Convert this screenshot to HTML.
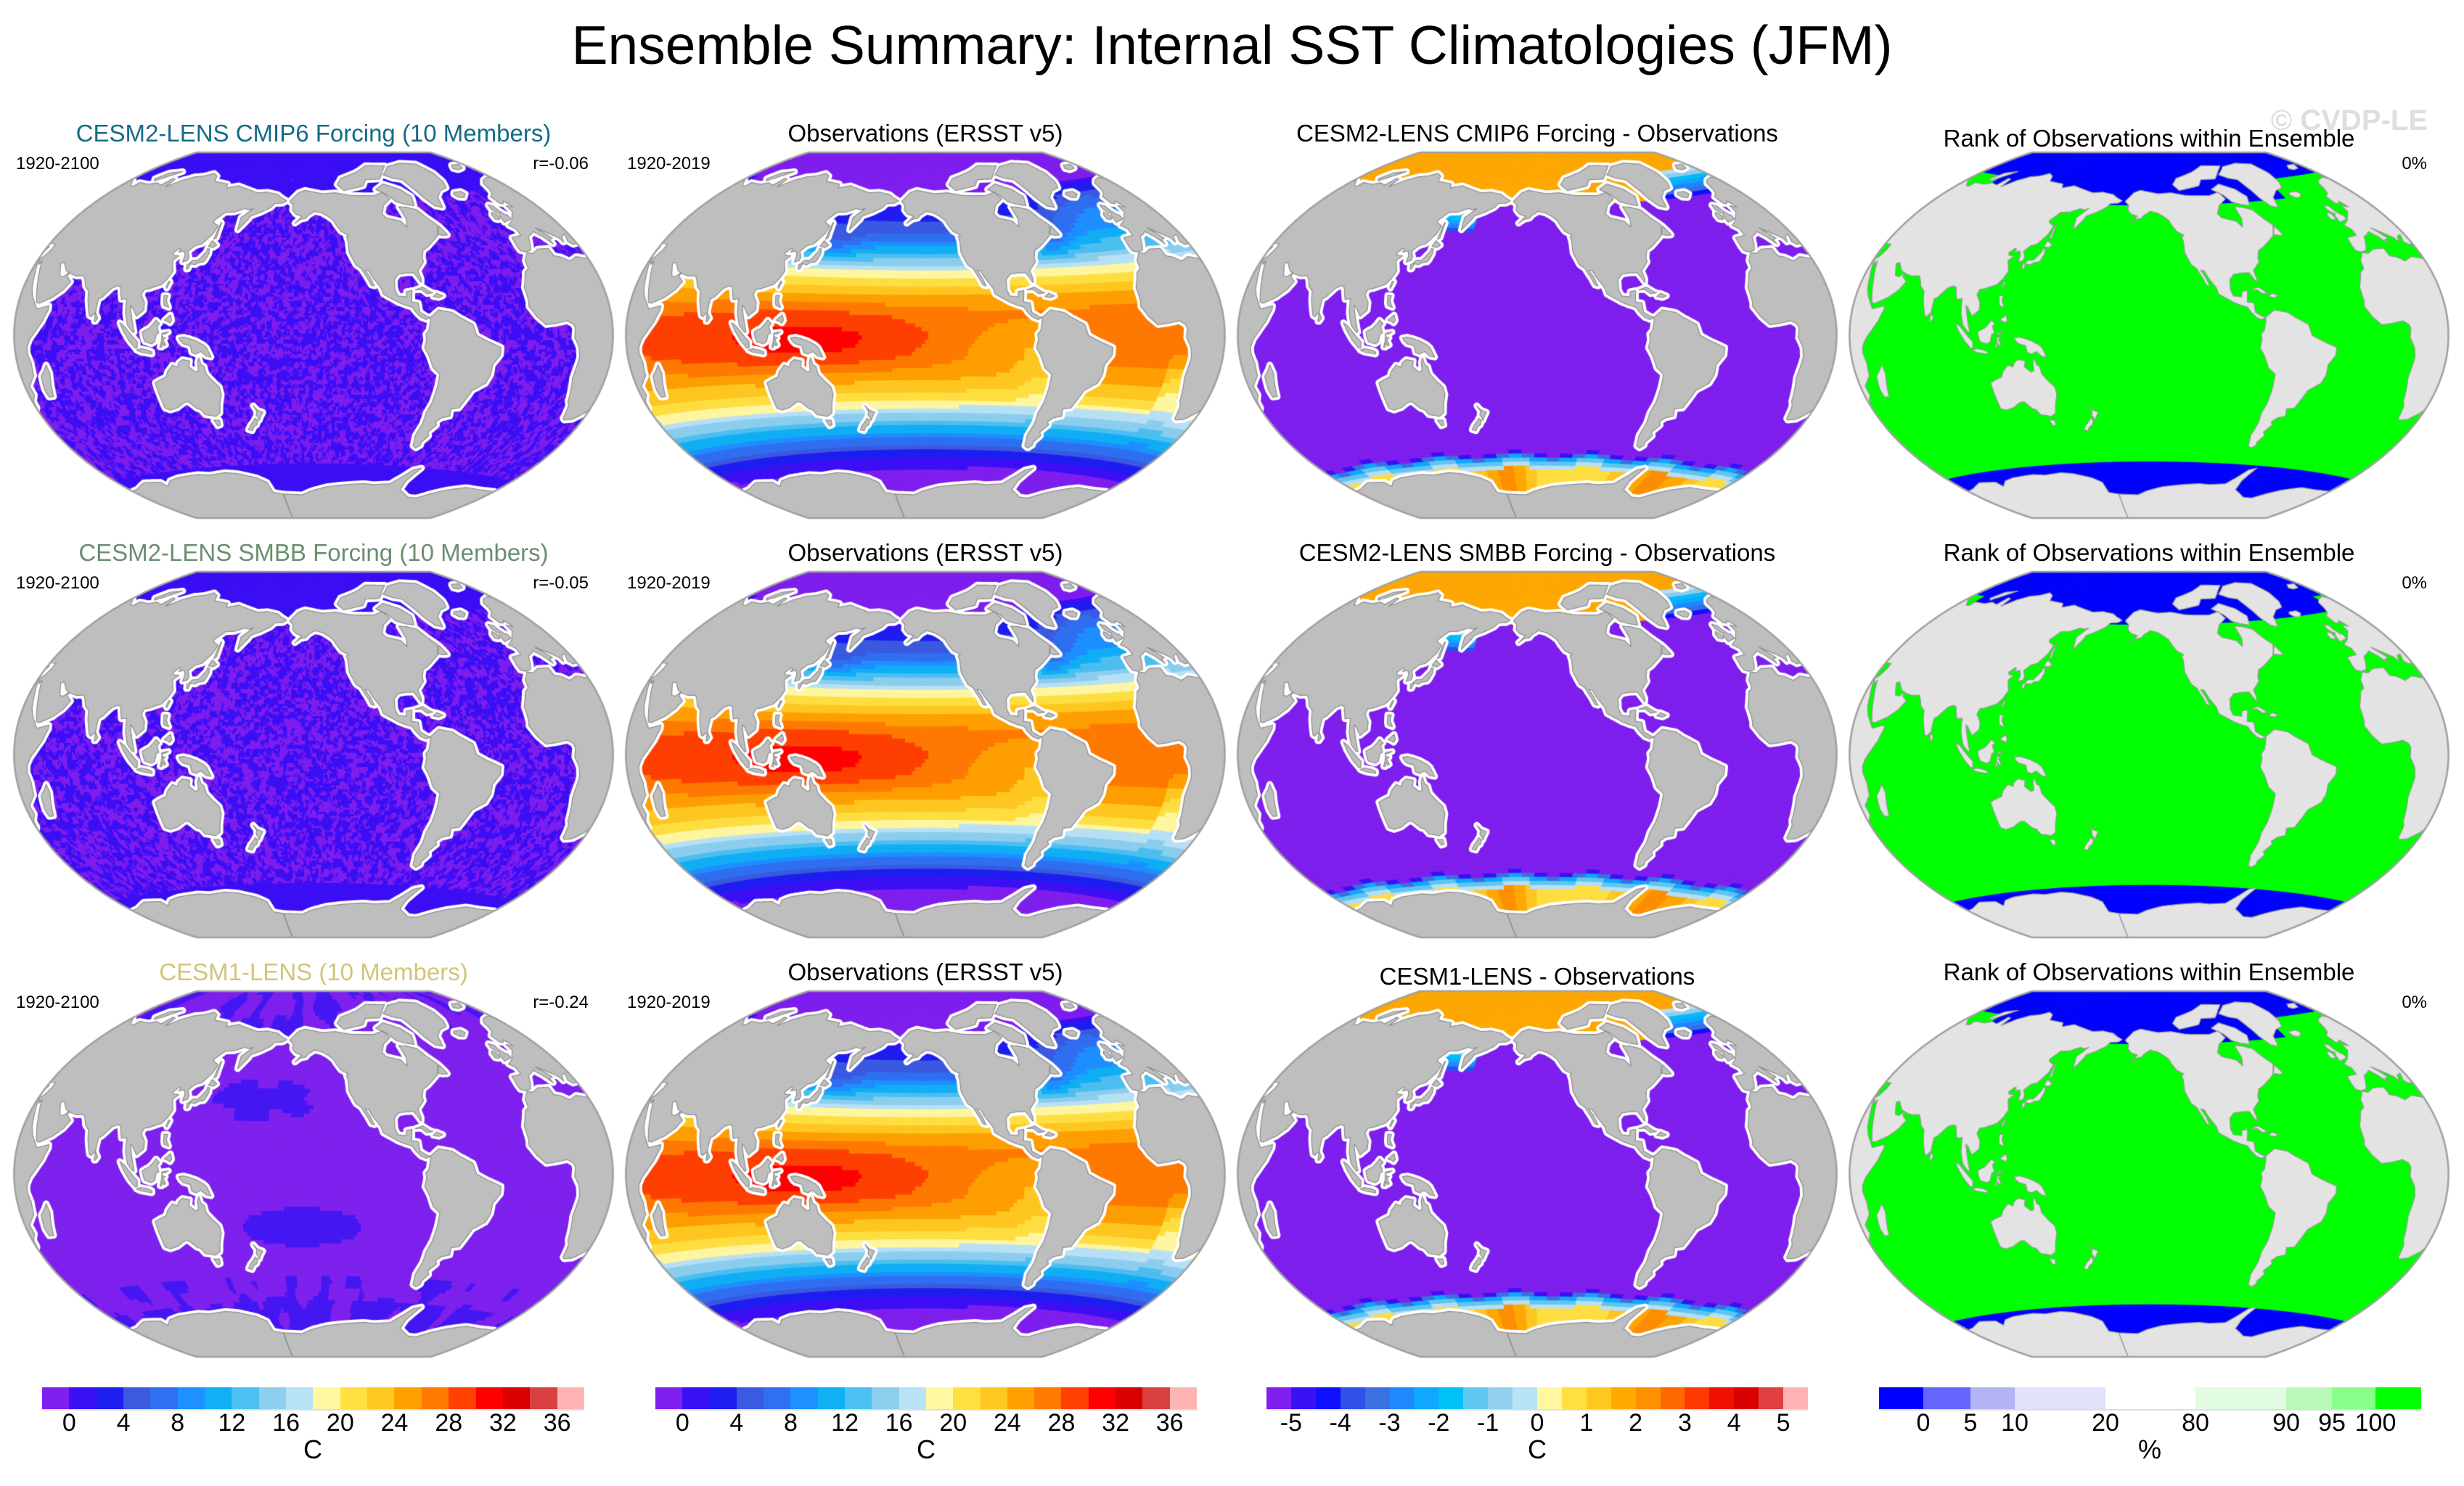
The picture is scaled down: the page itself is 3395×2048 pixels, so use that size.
<!DOCTYPE html>
<html><head><meta charset="utf-8">
<style>
html,body{margin:0;padding:0;background:#fff;}
#wrap{position:relative;width:3395px;height:2048px;overflow:hidden;font-family:"Liberation Sans",sans-serif;}
canvas{position:absolute;left:0;top:0;}
.t{position:absolute;white-space:nowrap;line-height:1;color:#000;}
.bar{position:absolute;top:1912px;height:30px;display:flex;border-bottom:2px solid #ddd;}
.bar div{height:100%;}
</style></head>
<body>
<div id="wrap">
<canvas id="cv" width="3395" height="2048"></canvas>
<div class="t" style="left:0;width:3395px;text-align:center;top:25px;font-size:75px;">Ensemble Summary: Internal SST Climatologies (JFM)</div>
<div class="t" style="right:50px;top:146px;font-size:40px;font-weight:bold;color:#dedede;">© CVDP-LE</div>
</div>
<script>
// ---- data arrays ----
const sstLevels=[0,2,4,6,8,10,12,14,16,18,20,22,24,26,28,30,32,34,36];
const sstColors=['#7f20ee','#3c10f5','#1e1ef0','#3a5ae0','#3070f0','#1e90ff','#10b0f5','#4cc0f0','#8ccfee','#b8e2f5','#fff8a0','#ffe040','#ffc820','#ffa000','#ff7a00','#ff4000','#ff0000','#d80000','#d94040','#ffb4b4'];
const sstTickLabels=['0','4','8','12','16','20','24','28','32','36'];
const diffColors=['#7f20ee','#3c10f5','#1010ff','#3050e8','#3a70e0','#2088ff','#10a8ff','#00c0f8','#60c8f0','#90d0ee','#b8e2f5','#fff8a0','#ffe040','#ffc820','#ffaa00','#ff9000','#ff6a00','#ff3a00','#f01000','#d80000','#e04040','#ffb4b4'];
const diffTickLabels=['-5','-4','-3','-2','-1','0','1','2','3','4','5'];
const rankColors=['#0000ff','#6666ff','#b3b3f5','#e2e2fa','#ffffff','#e2fce2','#b8f8b8','#88ff88','#00ff00'];
const rankBounds=[2589,2650,2715,2776,2901,3025,3150,3213,3273,3336];
const rankTickLabels=['0','5','10','20','80','90','95','100'];
const sstLats=[-90,-80,-70,-60,-50,-40,-30,-20,-10,0,10,20,30,40,50,60,70,80,90];
const sstZonal=[-1.8,-1.8,-1.5,1.5,8,15,21,24.5,27,27.5,27,24,19,12,6,3,-0.5,-1.5,-1.8];

const W=document.getElementById('wrap');
function txt(name,s,style){const d=document.createElement('div');d.className='t';


d.textContent=s;d.style.cssText=style;W.appendChild(d);return d;}

const colCX=[432,1275,2118,2961], rowCY=[462,1040,1618];
const S=160.5, L0=212;
const titles=[
 ['CESM2-LENS CMIP6 Forcing (10 Members)','Observations (ERSST v5)','CESM2-LENS CMIP6 Forcing - Observations','Rank of Observations within Ensemble'],
 ['CESM2-LENS SMBB Forcing (10 Members)','Observations (ERSST v5)','CESM2-LENS SMBB Forcing - Observations','Rank of Observations within Ensemble'],
 ['CESM1-LENS (10 Members)','Observations (ERSST v5)','CESM1-LENS - Observations','Rank of Observations within Ensemble']];
const tColors=['#156b86','#6a8e70','#d4c478'];
const rVals=['r=-0.06','r=-0.05','r=-0.24'];
for(let r=0;r<3;r++){for(let c=0;c<4;c++){
 let base=195+578*r; if(c==3&&r==0)base=202; if(c==2&&r==2)base=201+578*2;
 txt('panel-title-r'+(r+1)+'-c'+(c+1),titles[r][c],`left:${colCX[c]-600}px;width:1200px;text-align:center;top:${base-28}px;font-size:33px;color:${c==0?tColors[r]:'#000'}`);}
 const sb=234+578*r;
 txt('period-label-model-r'+(r+1),'1920-2100',`left:22px;top:${sb-20}px;font-size:24px`);
 txt('pattern-correlation-r'+(r+1),rVals[r],`right:${3395-811}px;top:${sb-20}px;font-size:24px`);
 txt('period-label-obs-r'+(r+1),'1920-2019',`left:864px;top:${sb-20}px;font-size:24px`);
 txt('rank-percent-r'+(r+1),'0%',`right:${3395-3344}px;top:${sb-20}px;font-size:24px`);
}
function bar(name,x0,x1,colors,bounds){const b=document.createElement('div');b.className='bar';
 
 
 b.style.left=x0+'px';b.style.width=(x1-x0)+'px';
 colors.forEach((c,i)=>{const d=document.createElement('div');
  
  
  d.style.background=c;d.style.width=(bounds?bounds[i+1]-bounds[i]:(x1-x0)/colors.length)+'px';b.appendChild(d);});
 W.appendChild(b);}
bar('sst-colorbar-1',58,805,sstColors);bar('sst-colorbar-2',903,1649,sstColors);
bar('diff-colorbar',1745,2491,diffColors);bar('rank-colorbar',2589,3336,rankColors,rankBounds);
function ticks(x0,x1,n,labels,step,first,name){const w=(x1-x0)/n;labels.forEach((l,i)=>{const x=x0+w*(first+i*step);
 txt(name,l,`left:${x-60}px;width:120px;text-align:center;top:1944px;font-size:34px`);});}
ticks(58,805,20,sstTickLabels,2,1,'sst-tick-label');ticks(903,1649,20,sstTickLabels,2,1,'sst-tick-label');
ticks(1745,2491,22,diffTickLabels,2,1,'diff-tick-label');
rankTickLabels.forEach((l,i)=>{txt('rank-tick-label',l,`left:${rankBounds[i+1]-60}px;width:120px;text-align:center;top:1944px;font-size:34px`);});
[[431,'C'],[1276,'C'],[2118,'C'],[2962,'%']].forEach(([x,u])=>txt('colorbar-units',u,`left:${x-50}px;width:100px;text-align:center;top:1980px;font-size:36px`));

// ---- projection (Winkel tripel) ----
const D=Math.PI/180, C1=2/Math.PI;
function wt(lr,lat){const l=lr*D,p=lat*D;const a=Math.acos(Math.cos(p)*Math.cos(l/2));const si=a<1e-9?1:Math.sin(a)/a;
 return [0.5*(l*C1+2*Math.cos(p)*Math.sin(l/2)/si),0.5*(p+Math.sin(p)/si)];}
function P(cx,cy,lr,lat){const q=wt(lr,lat);return [cx+S*q[0],cy-S*q[1]];}

// ---- land polygons (lon,lat) ----
const LAND=[
[[-168,66],[-162,70],[-156,71.3],[-140,69.6],[-128,70],[-115,68.5],[-95,68],[-85,69.5],[-82,66],[-90,63],[-94,59],[-92,57],[-82,55],[-79,52],[-77,56],[-78,62],[-72,61.5],[-65,60],[-61,56],[-56,52],[-60,47],[-65,44.5],[-70,42],[-74,40.5],[-76,37],[-76,35],[-81,31],[-80,27],[-80.5,25.2],[-82.5,28],[-84,30],[-89,30],[-94,29.5],[-97,27],[-97.5,22],[-96,19],[-91,18.5],[-90.5,21],[-87,21.5],[-88,16],[-84,15.5],[-83.5,11],[-79.5,9],[-77.5,8.5],[-80,7.5],[-83,8.5],[-86,11],[-88,13.5],[-92,14.5],[-96,15.8],[-105,20],[-106,23],[-110,27.5],[-112.7,31.5],[-114.8,31.8],[-112,28],[-110,24],[-112,24.5],[-114,28],[-115.8,30.4],[-117.1,32.5],[-120.5,34.5],[-124,40.5],[-124,46],[-124.7,48.4],[-123,49],[-128,51],[-131,54],[-133,56.5],[-137,58.5],[-141,60],[-147,61],[-152,59],[-154,57.5],[-158,57],[-162,55],[-157,58.5],[-162,59.5],[-165,61.5],[-165,64],[-168,65.5]],
[[-77.5,8.5],[-72,12],[-64,10.7],[-60,8.5],[-52,5],[-50,0],[-44,-2.5],[-35,-5.5],[-35,-9],[-39,-13.5],[-39,-18],[-41,-22],[-48,-25.5],[-53,-34],[-58,-34.5],[-57,-38],[-62,-39],[-65,-41],[-63.5,-42.5],[-67.5,-46],[-65.8,-47.8],[-69,-51],[-68.5,-52.5],[-71,-54],[-74,-53],[-75.5,-48],[-73.5,-42],[-73.5,-37],[-71.5,-32],[-70.5,-25],[-70.3,-18.5],[-75,-15.5],[-78,-10],[-81,-6],[-80,-2],[-80.5,0.5],[-78.5,2.5],[-77.5,7]],
[[-17,21],[-16.5,14.5],[-17,12.5],[-13,8],[-8,4.5],[-2,5],[5,6],[8.5,4.5],[9.5,3],[9,-1],[12,-5],[13,-9],[12,-15],[11.8,-17.5],[15,-27],[17,-29],[18.5,-34.2],[20,-34.8],[25,-34],[30,-31],[32.5,-28.5],[32.8,-26],[35.5,-23.5],[35,-20],[40,-16],[40.5,-11],[39.2,-7],[39.5,-4.5],[41.5,-1.5],[45,1.8],[48.5,5.5],[51.2,10.5],[51,12],[44,10.5],[43.2,11.5],[39.5,15.5],[37.5,18.5],[35.5,23.5],[33.5,27.5],[32.5,30],[29,30.8],[25,31.7],[20,30.5],[19,30.3],[15.2,32.3],[11,33.2],[10.5,36.5],[3,36.8],[-2,35.2],[-5.5,35.9],[-9.5,32.5],[-10,29],[-13,27.5]],
[[-9,43],[-9.5,39],[-9,37],[-6,36.2],[-2,36.7],[0,38.7],[3,42.5],[6,43.2],[9,44.3],[12.5,41.8],[16,38],[15.7,40],[18.5,40.3],[13,45.6],[19.5,42],[23,40],[23.8,38],[26,40.5],[29,41],[27,38],[29,36.5],[36,36.8],[36,34.5],[34.5,31.5],[32.5,30],[34.5,28],[35,29.5],[39,22],[43,13],[45,12.8],[52,15.5],[57,18.8],[59.8,22.5],[56.3,24.5],[56.5,26.2],[54,24.2],[51.5,24.5],[50.5,26],[48,29.5],[50,30],[54,26.8],[57,25.8],[62,25],[66.5,25.4],[68.5,23.4],[70,21],[72.9,19],[74,15],[76.5,8.5],[77.5,8],[80,10],[80.3,15.8],[82.3,16.7],[87,21],[90,22],[92,21.5],[94.3,16],[97.5,16.5],[98.2,10],[100,4.5],[103.3,1.3],[104.2,1.5],[103,5.5],[100.5,13.5],[102,12.5],[105,8.7],[109,11.5],[108.8,15],[106,18.5],[107,21],[110,21.4],[113.5,22.5],[117,23.5],[120,26.5],[122,30],[121,32],[119.5,35],[122.5,37.3],[119,37.3],[118,38.5],[121,40.8],[122.2,40.5],[121.5,39],[125,39.7],[126.5,37.5],[126.3,34.5],[129.3,35.3],[129.5,37],[127.5,39.7],[131,42.5],[135,43.5],[140,48.5],[141.3,52.5],[137,54],[136.5,55],[142,59.2],[149,59.6],[156,61.5],[160,61],[163,61.8],[156,57],[156.7,51],[162,56.3],[163,58],[170,60],[177,62.5],[179.5,64.5],[186,64.8],[189,66],[184,67.5],[180,69],[170,70],[161,69.5],[152,70.8],[140,72.5],[130,71],[128,73],[113,73.8],[110,76.5],[104,77.7],[97,76],[88,75],[80,72.5],[73,68.5],[72.5,72.7],[69,73],[67,69],[60,69.8],[55,68.5],[44,68.5],[44,66.5],[41,66.2],[33,69.3],[28,71],[20,70],[15,68.5],[12.5,65.5],[10,63.5],[5,62],[5.5,58.5],[8,58],[10.5,59.2],[12,57.2],[12.5,55.8],[8.5,57],[8,54],[4,52],[1.5,50.5],[-1.5,49.5],[-4.5,48.5],[-1.5,46.5],[-1.5,43.5]],
[[-73,78],[-60,82],[-40,83.5],[-22,82.5],[-18,77],[-20,72],[-24,69],[-32,68],[-40,65],[-43,60],[-48,61],[-52,65],[-54,69],[-58,75],[-66,76]],
[[-80,73.5],[-68,70.5],[-62,66.5],[-65,62],[-72,63],[-78,64.5],[-82,68],[-90,71]],
[[-120,71],[-100,73],[-95,76],[-80,76],[-70,80],[-62,82.5],[-85,83],[-100,80],[-120,77],[-125,74]],
[[113.5,-22],[114,-26.5],[115,-34],[118,-35],[123.5,-34],[129,-31.6],[131.5,-31.5],[135.5,-34.8],[138,-35.5],[140,-38],[144,-38.5],[146.5,-39],[150,-37.5],[151.5,-33],[153.5,-28.5],[153,-25],[149.5,-22],[146,-18.5],[145.3,-15],[143.5,-14],[142.5,-10.8],[141.5,-13],[141.5,-17],[139.5,-17.5],[136,-15],[136.8,-12.2],[132.5,-11.5],[130,-13],[129,-15],[126,-14],[122.5,-17],[121,-19.5],[117,-20.7]],
[[144.6,-40.7],[148.3,-40.9],[148,-43.2],[146,-43.6]],
[[172.7,-34.4],[175,-36.5],[178.5,-37.7],[177,-39.3],[175.3,-41.6],[174.6,-39.8],[173.8,-39.2],[174.5,-37]],
[[172.7,-40.5],[174.3,-41.7],[173,-43.8],[171,-44.5],[169,-46.6],[166.5,-46],[168.4,-44],[171.5,-41.7]],
[[130.9,34],[132.5,35.5],[136,35.7],[137.5,37.2],[140,40],[140,41.4],[141.5,41.3],[142,39],[140.8,36],[140,35],[137,34.6],[135,33.5],[132,33.8]],
[[140,42.5],[141.5,45.3],[145.5,43.3],[143.5,42]],
[[129.7,33.5],[131.8,33.8],[131.2,31.3],[130.2,31.2]],
[[142,46],[143.5,46.8],[143,54],[142.5,54.3]],
[[95.3,5.6],[98,4.2],[103.7,-1],[106,-3],[105.8,-5.8],[104.5,-5.9],[101,-2.5],[97.5,2]],
[[105.2,-6.8],[108,-6.2],[112,-6.8],[114.5,-7.7],[114.4,-8.7],[108,-7.8]],
[[109,1.5],[109.6,-1],[110.5,-3],[114.5,-4],[116.5,-3],[117.5,0.5],[119,1],[117.8,4.2],[119.2,5.4],[117,7],[115.5,5.3],[113,3.2],[111.3,2.6],[109.8,1.9]],
[[119.5,-5.5],[120.5,-2.8],[121,1],[124.8,1.5],[122.5,0.5],[120.5,0.5],[121.5,-1],[123,-1.2],[121.5,-2],[123,-4.5],[122,-5],[121,-3.5],[120.5,-5.6]],
[[131,-1.3],[134,-0.9],[137,-1.5],[141,-2.6],[145.5,-4.5],[147.5,-6],[150,-10.5],[147,-10],[144,-7.8],[141,-9],[138.5,-8.2],[137.8,-5],[133.5,-4],[132,-2.8]],
[[120,18.5],[122.3,18.5],[122,16],[124,13],[121,13.8],[120.5,15]],
[[122,7],[125.5,9.5],[126.5,7],[125.5,5.7],[124,6.5]],
[[120.2,22.5],[121,25.2],[122,25],[120.8,21.9]],
[[79.8,6],[80,9.8],[81.8,7.5],[80.5,6]],
[[44,-25],[47,-25],[50.3,-15.5],[49.3,-12],[47.5,-14],[44.3,-16.5],[43.3,-22]],
[[-5.5,50],[1.5,51],[1.7,52.8],[0,53.5],[-1.5,55.5],[-2,57.7],[-5,58.6],[-6.2,56.5],[-4.8,54.8],[-3,54],[-4.5,53.3],[-5.2,51.7]],
[[-6,52],[-6,54],[-8,55.2],[-10,54],[-10.3,52],[-8,51.5]],
[[-24,65.5],[-22,66.4],[-15,66.5],[-13.5,65],[-18,63.4],[-22,63.8]],
[[11,78],[17,80],[27,80],[22,77.5],[14,77]],
[[52,71.5],[57,75.5],[68,77],[60,73],[55,70.5]],
[[-85,21.8],[-80,23],[-75.5,20.5],[-74.2,20.2],[-78,19.8],[-81,21.8]],
[[-74.5,18.4],[-72,19.9],[-68.4,18.6],[-71,17.8]],
[[-59.3,47.6],[-55.5,51.6],[-53,48],[-52.7,47],[-56,47]],
[[-180,-78],[-160,-78.5],[-150,-76.5],[-135,-74.5],[-120,-73.5],[-100,-72.5],[-90,-72.8],[-75,-72],[-68,-68],[-63,-64.5],[-57,-63.3],[-60,-67],[-62,-70],[-61,-74.5],[-45,-78],[-35,-78],[-25,-75],[-15,-72.5],[0,-70],[15,-70],[30,-69.5],[40,-68.8],[55,-66.5],[70,-67.5],[72,-70],[80,-67.5],[90,-66.5],[110,-66],[120,-66.8],[135,-66.2],[145,-67],[160,-69.5],[168,-72],[170,-77],[180,-78],[180,-90],[-180,-90]]
];
function clipX(poly,v,keepGreater){const out=[];const n=poly.length;
 for(let i=0;i<n;i++){const a=poly[i],b=poly[(i+1)%n];const ia=keepGreater?a[0]>=v:a[0]<=v,ib=keepGreater?b[0]>=v:b[0]<=v;
  if(ia)out.push(a);
  if(ia!==ib){const t=(v-a[0])/(b[0]-a[0]);out.push([v,a[1]+t*(b[1]-a[1])]);}}
 return out;}
function densify(poly){const out=[];const n=poly.length;
 for(let i=0;i<n;i++){const a=poly[i],b=poly[(i+1)%n];const d=Math.max(Math.abs(b[0]-a[0]),Math.abs(b[1]-a[1]));const k=Math.max(1,Math.ceil(d/1.5));
  for(let j=0;j<k;j++)out.push([a[0]+(b[0]-a[0])*j/k,a[1]+(b[1]-a[1])*j/k]);}
 return out;}
const LANDREL=[];
LAND.forEach(poly=>{for(let k=-2;k<=1;k++){const lo=L0-180+360*k,hi=lo+360;
 let p=clipX(poly,lo,true);if(p.length<3)continue;p=clipX(p,hi,false);if(p.length<3)continue;
 LANDREL.push(densify(p).map(q=>[q[0]-lo-180,q[1]]));}});

// ---- fields ----
function zonal(lat){for(let i=0;i<sstLats.length-1;i++){if(lat<=sstLats[i+1]){const t=(lat-sstLats[i])/(sstLats[i+1]-sstLats[i]);return sstZonal[i]+t*(sstZonal[i+1]-sstZonal[i]);}}return sstZonal[sstZonal.length-1];}
function g(x,m,s){return Math.exp(-((x-m)*(x-m))/(2*s*s));}
function norm(lon){return ((lon%360)+360)%360;}
function obsT(lon,lat){lon=norm(lon);let T=zonal(lat);
 T+=2.2*g(lat,-3,11)*(g(lon,100,45)+g(lon,160,35));
 T-=3*g(lat,-5,9)*g(lon,270,25);
 T-=3.5*g(lat,-22,10)*g(lon,8,8);
 T-=2*g(lat,-22,10)*g(lon,283,8);
 const la=lon>200?lon:lon+360;
 T+=4.5*g(lat,58,12)*g(la,350,30);
 T-=2.5*g(lat,45,6)*g(lon,300,10);
 T-=2.5*g(lat,45,6)*g(lon,152,12);
 if(lat>72)T=-1.8;return T;}
function diffV(lon,lat,r){lon=norm(lon);const la=lon>200?lon:lon+360;
 if(lat>64){ if(la>315&&la<395&&lat<78){return -5+5*(lat-62)/16;} return 1.6+(r==1?0.3:0);}
 if(lat>50&&g(lon,150,10)>0.3&&lat<60)return -4+ (lat-50)/3;
 const w=-58+1.2*Math.sin(lon*D*6);
 if(lat>w)return -6;
 if(lat>w-1)return -4.7; if(lat>w-2)return -3.5; if(lat>w-3.5)return -2.2; if(lat>w-5.5)return -1.2; if(lat>w-7.5)return -0.3;
 return 0.3+1.4*(g(lon,320,25)+g(lon,185,15)+0.3);}
function rankV(lon,lat,r){lon=norm(lon);
 if(lat>63){ if((lon>330||lon<60)&&lat<74&&r!=1)return 8; if(lon>20&&lon<45&&lat<72)return 8; return 0;}
 if(lat<(r==0?-61:-63))return 0; return 8;}
function hash(i,j,s){let h=(i*374761393+j*668265263+s*982451653)|0;h=(h^(h>>>13))*1274126177|0;return ((h^(h>>>16))>>>0)/4294967296;}
function vnoise(x,y,s){const xi=Math.floor(x),yi=Math.floor(y),fx=x-xi,fy=y-yi;
 const a=hash(xi,yi,s),b=hash(xi+1,yi,s),c=hash(xi,yi+1,s),d=hash(xi+1,yi+1,s);
 const ux=fx*fx*(3-2*fx),uy=fy*fy*(3-2*fy);return a+(b-a)*ux+(c-a)*uy+(a-b-c+d)*ux*uy;}
function sstIdx(T){return T<sstLevels[0]?0:Math.min(19,Math.floor(T/2)+1);}
function diffIdx(v){return v<-5?0:Math.min(21,Math.floor((v+5)/0.5)+1);}

const cv=document.getElementById('cv'),ctx=cv.getContext('2d');
function outline(cx,cy){ctx.beginPath();let p=P(cx,cy,-180,-90);ctx.moveTo(p[0],p[1]);
 for(let la=-90;la<=90;la+=1){p=P(cx,cy,180,la);ctx.lineTo(p[0],p[1]);}
 for(let la=90;la>=-90;la-=1){p=P(cx,cy,-180,la);ctx.lineTo(p[0],p[1]);}ctx.closePath();}
function panel(r,c){const cx=colCX[c],cy=rowCY[r];
 ctx.save();outline(cx,cy);ctx.clip();
 ctx.fillStyle=c==3?'#00ff00':'#7f20ee';ctx.fillRect(cx-420,cy-260,840,520);
 const step=(c==0&&r<2)?1:2;
 for(let lr=-180;lr<180;lr+=step){for(let lat=-90;lat<90;lat+=step){
  const lon=lr+L0+step/2, la=lat+step/2;let col;
  if(c==0){ if(r<2){let p=(la>66||la<-63)?0.96:0.52;const n=0.3*hash(lr,lat,r+3)+0.7*vnoise(lr/2.2,lat/1.8,r+7);col=n<p?sstColors[1]:sstColors[0];}
    else{const n=vnoise(lr/9,lat/9,11);let v=-1;
     if(g(la,36,8)*g(norm(lon),180,25)>0.4&&n>0.25)v=1; if(g(la,-26,7)*g(norm(lon),205,28)>0.4)v=1;
     if(la<-62&&n>0.35)v=1; if(la>68&&n>0.6)v=1; if(la<-50&&la>-62&&n>0.75)v=1;
     col=v>0?'#4518f2':'#7f22ee';}}
  else if(c==1)col=sstColors[sstIdx(obsT(lon,la))];
  else if(c==2)col=diffColors[diffIdx(diffV(lon,la,r))];
  else col=rankColors[rankV(lon,la,r)];
  const a=P(cx,cy,lr,lat),b=P(cx,cy,lr+step,lat),d=P(cx,cy,lr+step,lat+step),e=P(cx,cy,lr,lat+step);
  ctx.beginPath();ctx.moveTo(a[0],a[1]);ctx.lineTo(b[0],b[1]);ctx.lineTo(d[0],d[1]);ctx.lineTo(e[0],e[1]);ctx.closePath();
  ctx.fillStyle=col;ctx.fill();ctx.strokeStyle=col;ctx.lineWidth=0.8;ctx.stroke();}}
 const paths=LANDREL.map(poly=>{const p=new Path2D();poly.forEach((q,i)=>{const s=P(cx,cy,q[0],q[1]);i?p.lineTo(s[0],s[1]):p.moveTo(s[0],s[1]);});p.closePath();return p;});
 ctx.lineJoin='round';
 if(c!=3){ctx.strokeStyle='#ffffff';ctx.lineWidth=9;paths.forEach(p=>ctx.stroke(p));}
 ctx.fillStyle=c==3?'#e3e3e3':'#bebebe';paths.forEach(p=>ctx.fill(p));
 ctx.strokeStyle=c==3?'#9a9a9a':'#8c8c8c';ctx.lineWidth=1.2;paths.forEach(p=>ctx.stroke(p));
 ctx.restore();
 outline(cx,cy);ctx.strokeStyle='#a0a0a0';ctx.lineWidth=2.5;ctx.stroke();}
for(let r=0;r<3;r++)for(let c=0;c<4;c++)panel(r,c);
</script>
</body></html>
